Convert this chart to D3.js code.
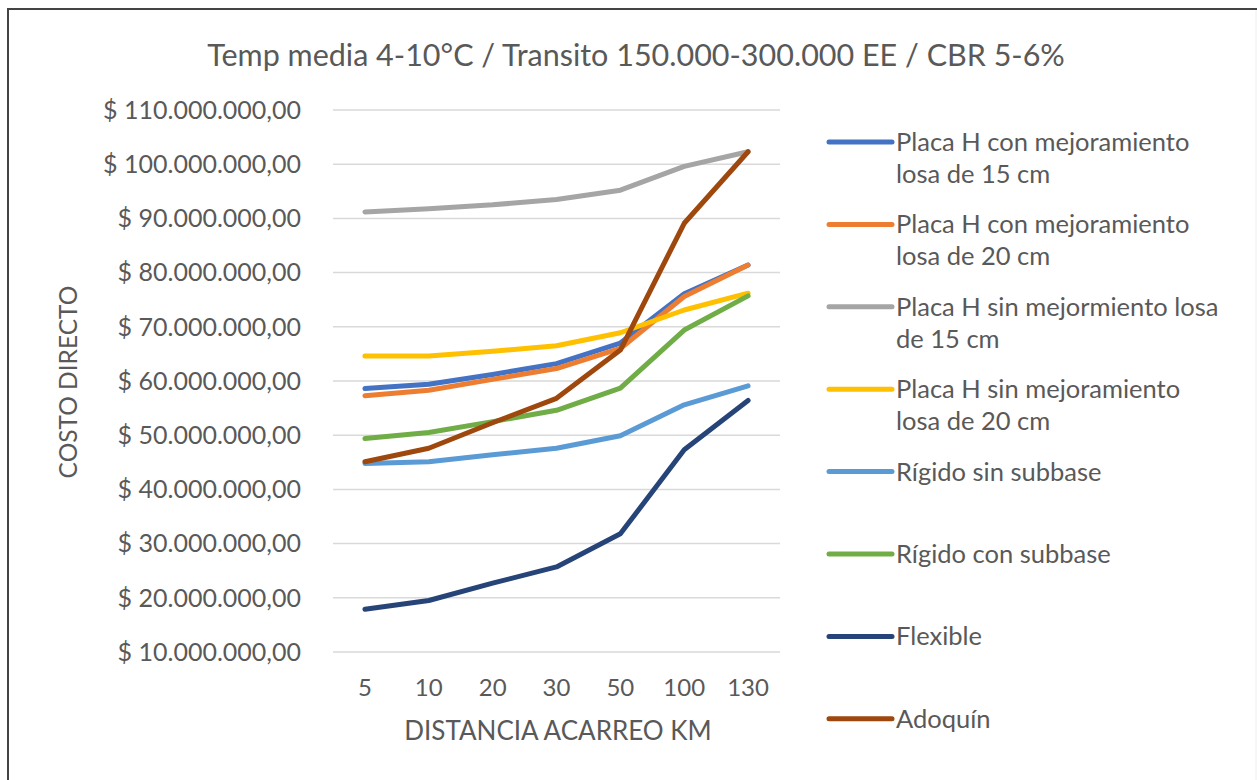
<!DOCTYPE html>
<html>
<head>
<meta charset="utf-8">
<script src="https://cdn.jsdelivr.net/npm/d3@7"></script>
<style>
body { margin: 0; background: #fff; }
text { font-family: Lato, "Open Sans", sans-serif; fill: #595959; }
</style>
</head>
<body>
<div id="chart"></div>
<script>
//Width and height
var w = 1257;
var h = 780;

//Data (values in millions)
var distances = ["5", "10", "20", "30", "50", "100", "130"];
var seriesNames = [
    "Placa H con mejoramiento losa de 15 cm",
    "Placa H con mejoramiento losa de 20 cm",
    "Placa H sin mejormiento losa de 15 cm",
    "Placa H sin mejoramiento losa de 20 cm",
    "Rígido sin subbase",
    "Rígido con subbase",
    "Flexible",
    "Adoquín"
];
var legendLines = [
    ["Placa H con mejoramiento", "losa de 15 cm"],
    ["Placa H con mejoramiento", "losa de 20 cm"],
    ["Placa H sin mejormiento losa", "de 15 cm"],
    ["Placa H sin mejoramiento", "losa de 20 cm"],
    ["Rígido sin subbase"],
    ["Rígido con subbase"],
    ["Flexible"],
    ["Adoquín"]
];
var placaCon15 = [58.6, 59.4, 61.2, 63.2, 67.0, 76.1, 81.4];
var placaCon20 = [57.3, 58.3, 60.3, 62.3, 66.0, 75.6, 81.4];
var placaSin15 = [91.2, 91.8, 92.5, 93.5, 95.2, 99.6, 102.3];
var placaSin20 = [64.6, 64.6, 65.5, 66.5, 68.9, 73.1, 76.2];
var rigidoSin = [44.8, 45.1, 46.4, 47.6, 49.9, 55.6, 59.1];
var rigidoCon = [49.4, 50.5, 52.5, 54.6, 58.7, 69.4, 75.7];
var flexible = [17.9, 19.5, 22.7, 25.7, 31.8, 47.3, 56.4];
var adoquin = [45.1, 47.6, 52.3, 56.8, 65.7, 89.1, 102.3];
var yTicks = [10, 20, 30, 40, 50, 60, 70, 80, 90, 100, 110];
var colors = ["#4472C4", "#ED7D31", "#A5A5A5", "#FFC000", "#5B9BD5", "#70AD47", "#264478", "#9E480E"];

var allSeries = [placaCon15, placaCon20, placaSin15, placaSin20, rigidoSin, rigidoCon, flexible, adoquin];

//Create SVG element
var svg = d3.select("#chart")
    .append("svg")
    .attr("width", w)
    .attr("height", h);

svg.append("rect")
    .attr("x", 0).attr("y", 0)
    .attr("width", w).attr("height", h)
    .attr("fill", "#fff");

//frame (only top and left edges show in the picture)
svg.append("path")
    .attr("d", "M8,780 L8,9 L1257,9")
    .attr("fill", "none")
    .attr("stroke", "#444")
    .attr("stroke-width", 2);
svg.append("line")
    .attr("x1", 1256).attr("x2", 1256)
    .attr("y1", 10).attr("y2", 780)
    .attr("stroke", "#eee");

//scales
var x = d3.scaleBand()
    .domain(distances)
    .range([333, 780]);

var y = d3.scaleLinear()
    .domain([10, 110])
    .range([652, 110]);

//format 1e7 -> "$ 10.000.000,00"
function money(v) {
    var s = d3.format(",")(v * 1000000).replace(/,/g, ".");
    return "$ " + s + ",00";
}

//gridlines
svg.append("g")
    .selectAll("line")
    .data(yTicks)
    .enter()
    .append("line")
    .attr("x1", 333)
    .attr("x2", 780)
    .attr("y1", function(d) { return y(d); })
    .attr("y2", function(d) { return y(d); })
    .attr("stroke", "#d9d9d9")
    .attr("stroke-width", 1.5);

//y tick labels
svg.append("g")
    .selectAll("text")
    .data(yTicks)
    .enter()
    .append("text")
    .attr("x", 301)
    .attr("y", function(d) { return y(d); })
    .attr("dy", "0.35em")
    .attr("text-anchor", "end")
    .style("font-size", "25px")
    .text(money);

//x tick labels
svg.append("g")
    .selectAll("text")
    .data(distances)
    .enter()
    .append("text")
    .attr("x", function(d) { return x(d) + x.bandwidth() / 2; })
    .attr("y", 688)
    .attr("dy", "0.35em")
    .attr("text-anchor", "middle")
    .style("font-size", "24px")
    .text(function(d) { return d; });

//axis titles
svg.append("text")
    .attr("x", 558)
    .attr("y", 731)
    .attr("dy", "0.35em")
    .attr("text-anchor", "middle")
    .style("font-size", "26px")
    .text("DISTANCIA ACARREO KM");

svg.append("text")
    .attr("transform", "translate(68,382) rotate(-90)")
    .attr("dy", "0.35em")
    .attr("text-anchor", "middle")
    .style("font-size", "24.5px")
    .text("COSTO DIRECTO");

//title
svg.append("text")
    .attr("x", 636)
    .attr("y", 55)
    .attr("dy", "0.35em")
    .attr("text-anchor", "middle")
    .style("font-size", "30.5px")
    .text("Temp media 4-10°C / Transito 150.000-300.000 EE / CBR 5-6%");

//lines
var line = d3.line()
    .x(function(d, i) { return x(distances[i]) + x.bandwidth() / 2; })
    .y(function(d) { return y(d); });

svg.append("g")
    .selectAll("path")
    .data(allSeries)
    .enter()
    .append("path")
    .attr("d", line)
    .attr("fill", "none")
    .attr("stroke", function(d, i) { return colors[i]; })
    .attr("stroke-width", 5)
    .attr("stroke-linecap", "round")
    .attr("stroke-linejoin", "round");

//legend
var legend = svg.append("g")
    .selectAll("g")
    .data(seriesNames)
    .enter()
    .append("g")
    .attr("transform", function(d, i) { return "translate(0," + (142 + i * 82.4) + ")"; });

legend.append("line")
    .attr("x1", 829)
    .attr("x2", 892)
    .attr("stroke", function(d, i) { return colors[i]; })
    .attr("stroke-width", 5)
    .attr("stroke-linecap", "round");

legend.each(function(d, i) {
    var g = d3.select(this);
    legendLines[i].forEach(function(t, k) {
        g.append("text")
            .attr("x", 896)
            .attr("y", k * 32)
            .attr("dy", "0.35em")
            .style("font-size", "25.5px")
            .text(t);
    });
});
</script>
</body>
</html>
